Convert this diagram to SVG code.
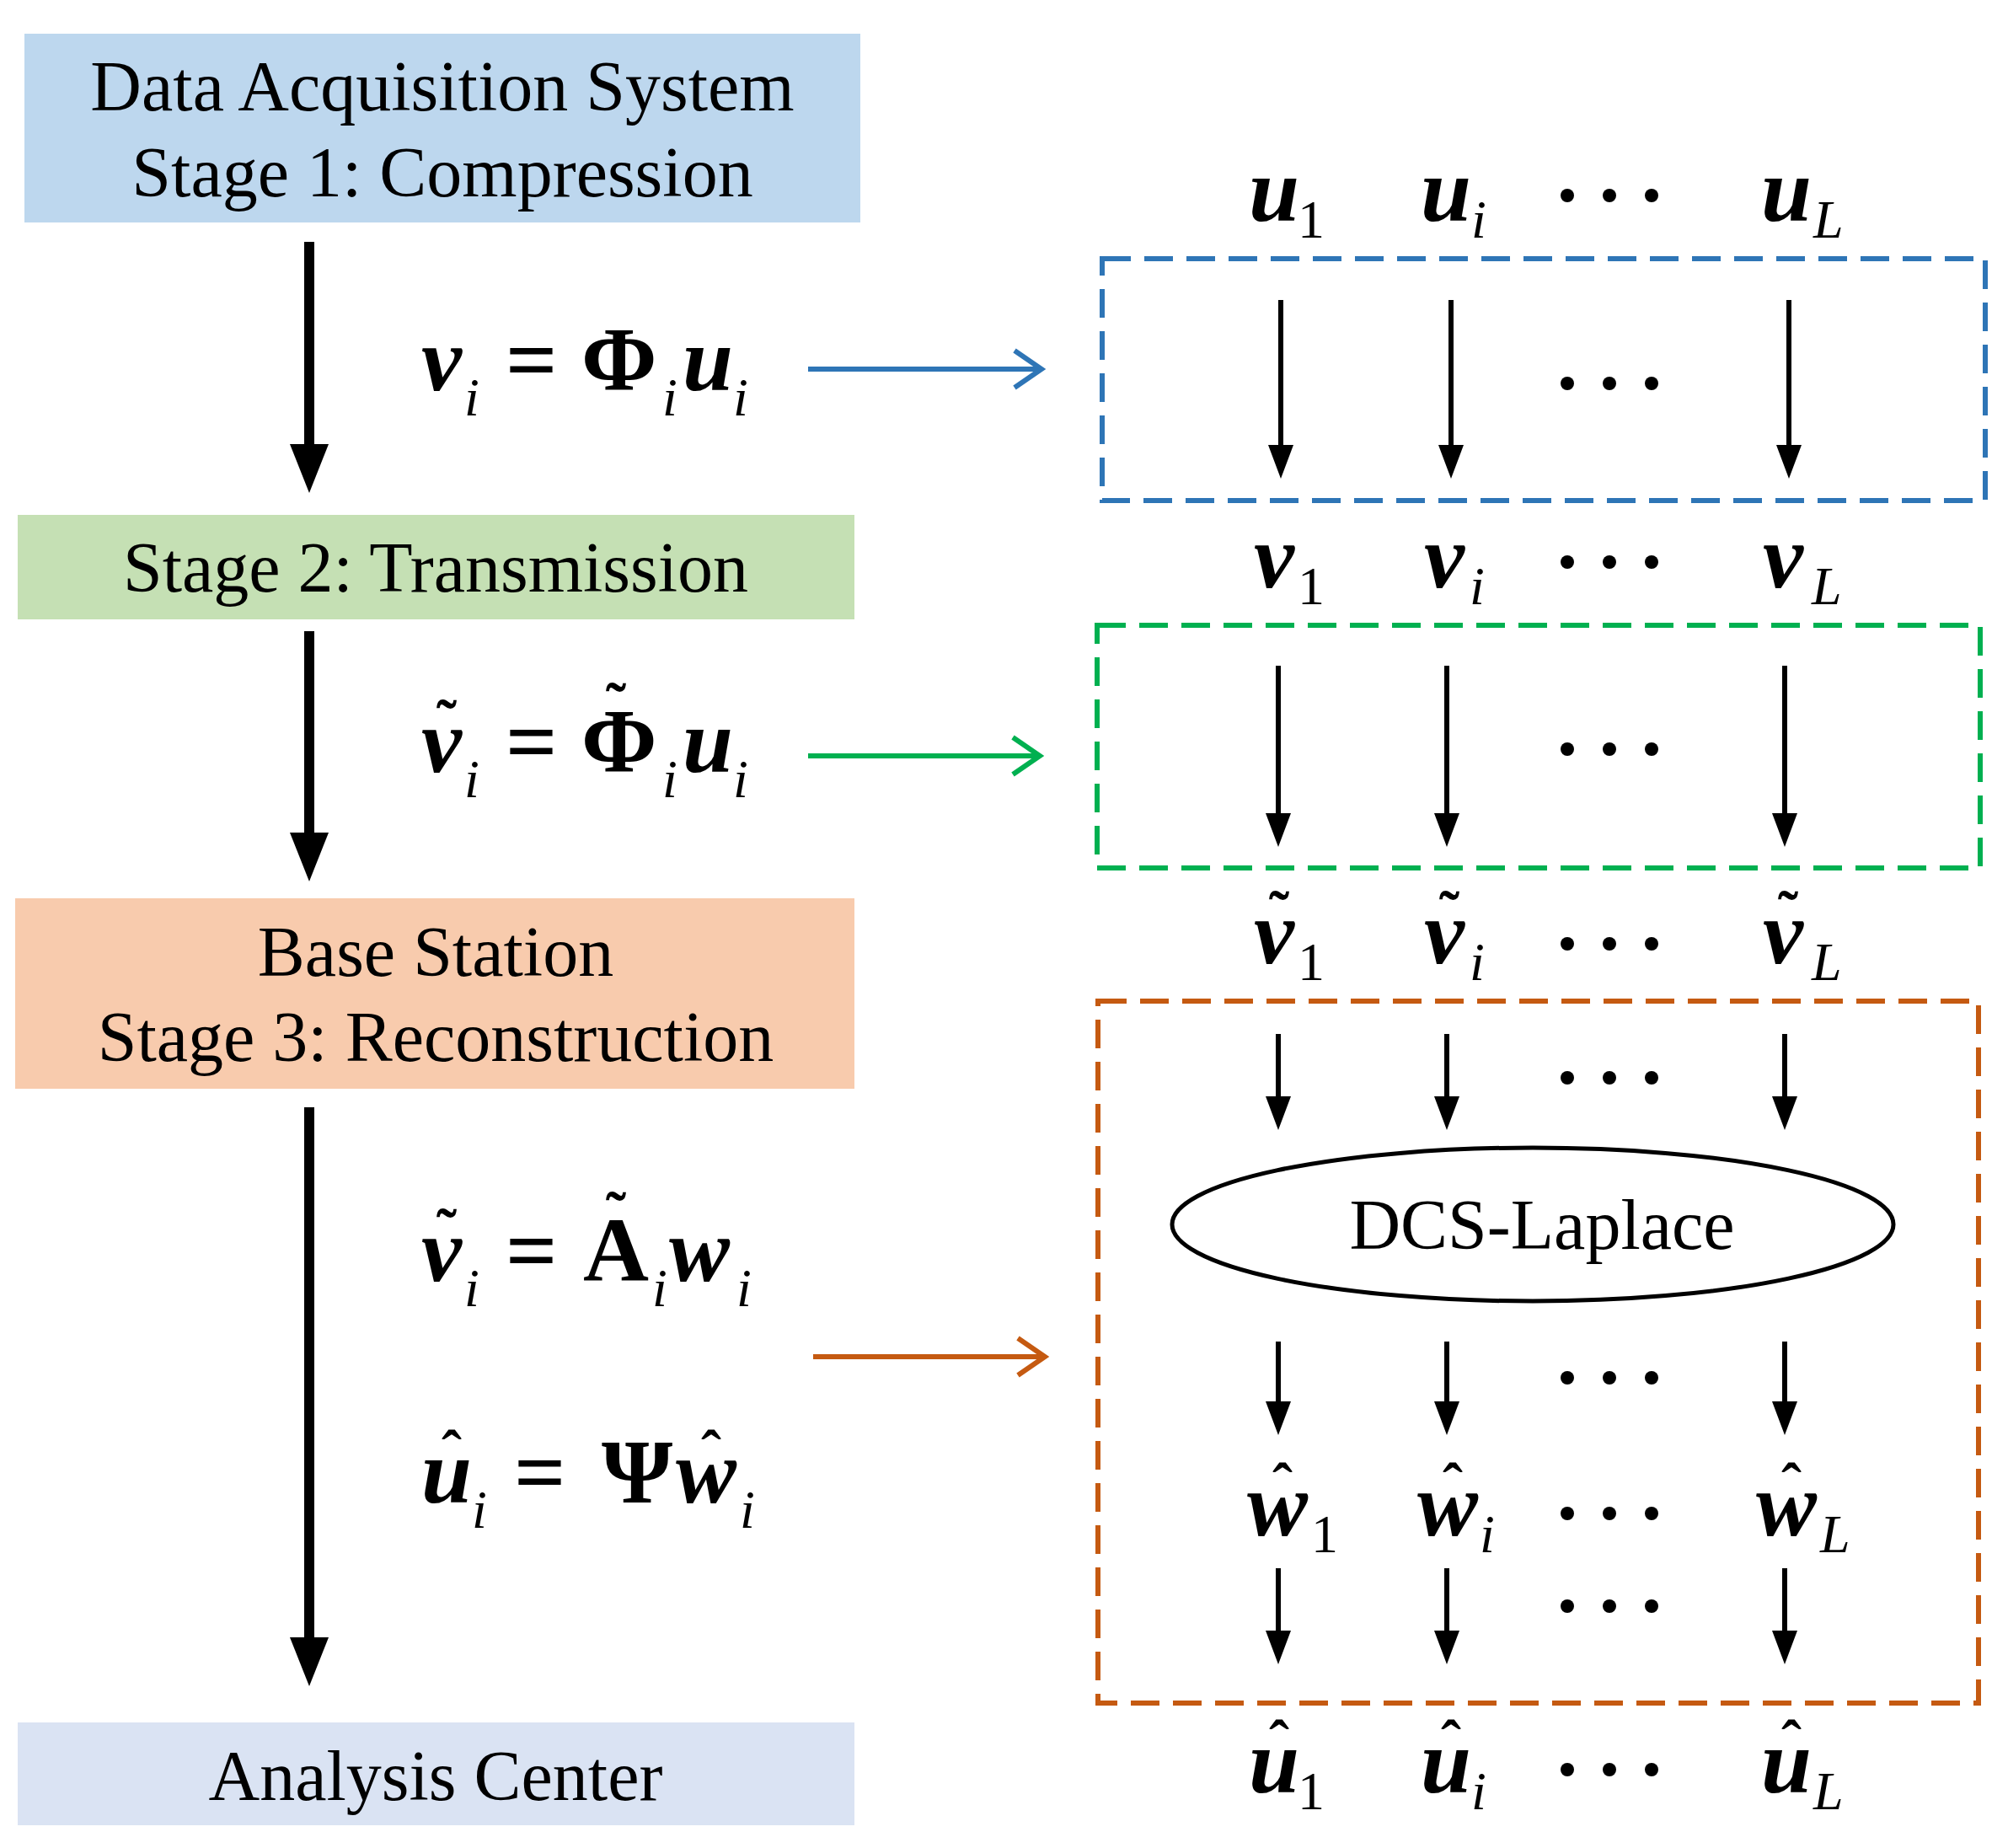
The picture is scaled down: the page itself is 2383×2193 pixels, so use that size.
<svg xmlns="http://www.w3.org/2000/svg" width="2383" height="2193" viewBox="0 0 2383 2193">
<style>
.t{font-family:"Liberation Serif","Times New Roman",serif;font-size:84px;fill:#000;text-anchor:middle}
.m{font-family:"Liberation Serif","Times New Roman",serif;font-size:108px;font-weight:bold;font-style:italic;fill:#000}
.r{font-family:"Liberation Serif","Times New Roman",serif;font-size:108px;font-weight:bold;fill:#000}
.d{font-family:"Liberation Serif","Times New Roman",serif;font-size:72px;font-weight:bold;fill:#000;text-anchor:middle}
.s{font-family:"Liberation Serif","Times New Roman",serif;font-size:64px;font-style:italic;fill:#000}
.n{font-family:"Liberation Serif","Times New Roman",serif;font-size:64px;fill:#000}
.big{stroke:#000;stroke-width:12;fill:none}
.sm{stroke:#000;stroke-width:6;fill:none}
.dash{fill:none;stroke-width:6;stroke-dasharray:34 16}
</style>
<defs>
<marker id="bh" markerUnits="userSpaceOnUse" markerWidth="60" markerHeight="46" refX="0" refY="23" orient="auto"><path d="M0 0 L58 23 L0 46 Z" fill="#000"/></marker>
<marker id="sh" markerUnits="userSpaceOnUse" markerWidth="42" markerHeight="30" refX="0" refY="15" orient="auto"><path d="M0 0 L40 15 L0 30 Z" fill="#000"/></marker>
<g id="dots"><circle cx="-50" cy="0" r="8"/><circle cx="0" cy="0" r="8"/><circle cx="50" cy="0" r="8"/></g>
</defs>
<rect width="2383" height="2193" fill="#fff"/>

<g id="stage1"><rect x="29" y="40" width="992" height="224" fill="#BDD7EE"/>
<text class="t" x="525" y="131">Data Acquisition System</text><text class="t" x="525" y="233">Stage 1: Compression</text></g>
<g id="stage2"><rect x="21" y="611" width="993" height="124" fill="#C5E0B4"/>
<text class="t" x="517" y="702">Stage 2: Transmission</text></g>
<g id="stage3"><rect x="18" y="1066" width="996" height="226" fill="#F8CBAD"/>
<text class="t" x="517" y="1158">Base Station</text><text class="t" x="517" y="1259">Stage 3: Reconstruction</text></g>
<g id="analysis"><rect x="21" y="2044" width="993" height="122" fill="#DAE3F3"/>
<text class="t" x="517" y="2136">Analysis Center</text></g>

<g id="equations">
<text class="m" x="500" y="463">v</text><text class="s" x="551" y="493">i</text>
<text class="r" x="600" y="463">=</text>
<text class="r" x="690" y="463">Φ</text><text class="s" x="786" y="493">i</text>
<text class="m" x="810" y="463">u</text><text class="s" x="870" y="493">i</text>

<text class="m" x="500" y="916">v</text><text class="d" x="530" y="880">˜</text><text class="s" x="551" y="946">i</text>
<text class="r" x="600" y="916">=</text>
<text class="r" x="690" y="916">Φ</text><text class="d" x="731" y="860">˜</text><text class="s" x="786" y="946">i</text>
<text class="m" x="810" y="916">u</text><text class="s" x="870" y="946">i</text>

<text class="m" x="500" y="1520">v</text><text class="d" x="530" y="1484">˜</text><text class="s" x="551" y="1550">i</text>
<text class="r" x="600" y="1520">=</text>
<text class="r" x="692" y="1520">A</text><text class="d" x="731" y="1464">˜</text><text class="s" x="774" y="1550">i</text>
<text class="m" x="794" y="1520">w</text><text class="s" x="874" y="1550">i</text>

<text class="m" x="500" y="1783">u</text><text class="d" x="536" y="1747">ˆ</text><text class="s" x="560" y="1813">i</text>
<text class="r" x="610" y="1783">=</text>
<text class="r" x="714" y="1783">Ψ</text>
<text class="m" x="802" y="1783">w</text><text class="d" x="844" y="1747">ˆ</text><text class="s" x="878" y="1813">i</text>
</g>

<g id="connectors">
<path class="big" d="M367 287 V527" marker-end="url(#bh)"/>
<path class="big" d="M367 749 V988" marker-end="url(#bh)"/>
<path class="big" d="M367 1314 V1943" marker-end="url(#bh)"/>
<g stroke="#2E75B6" stroke-width="6" fill="none"><path d="M959 438 H1234"/><path d="M1204 416 L1236 438 L1204 460"/></g>
<g stroke="#00B050" stroke-width="6" fill="none"><path d="M959 897 H1232"/><path d="M1202 875 L1234 897 L1202 919"/></g>
<g stroke="#C55A11" stroke-width="6" fill="none"><path d="M965 1610 H1238"/><path d="M1208 1588 L1240 1610 L1208 1632"/></g>
<g id="colarrows">
<path class="sm" d="M1520 356 V528" marker-end="url(#sh)"/><path class="sm" d="M1722 356 V528" marker-end="url(#sh)"/><path class="sm" d="M2123 356 V528" marker-end="url(#sh)"/>
<path class="sm" d="M1517 790 V965" marker-end="url(#sh)"/><path class="sm" d="M1717 790 V965" marker-end="url(#sh)"/><path class="sm" d="M2118 790 V965" marker-end="url(#sh)"/>
<path class="sm" d="M1517 1227 V1301" marker-end="url(#sh)"/><path class="sm" d="M1717 1227 V1301" marker-end="url(#sh)"/><path class="sm" d="M2118 1227 V1301" marker-end="url(#sh)"/>
<path class="sm" d="M1517 1592 V1663" marker-end="url(#sh)"/><path class="sm" d="M1717 1592 V1663" marker-end="url(#sh)"/><path class="sm" d="M2118 1592 V1663" marker-end="url(#sh)"/>
<path class="sm" d="M1517 1861 V1935" marker-end="url(#sh)"/><path class="sm" d="M1717 1861 V1935" marker-end="url(#sh)"/><path class="sm" d="M2118 1861 V1935" marker-end="url(#sh)"/>
</g>
</g>

<g id="boxes">
<rect class="dash" x="1308" y="307" width="1048" height="287" stroke="#2E75B6"/>
<rect class="dash" x="1302" y="742" width="1048" height="288" stroke="#00B050"/>
<rect class="dash" x="1303" y="1188" width="1045" height="833" stroke="#C55A11"/>
</g>

<g id="dcs"><ellipse cx="1819" cy="1453" rx="428" ry="91" fill="#fff" stroke="#000" stroke-width="5"/>
<text class="t" x="1830" y="1482">DCS-Laplace</text></g>

<g id="rows">
<text class="m" x="1482" y="262">u</text><text class="n" x="1540" y="282">1</text>
<text class="m" x="1686" y="262">u</text><text class="s" x="1746" y="282">i</text>
<text class="m" x="2090" y="262">u</text><text class="s" x="2152" y="282">L</text>
<use href="#dots" x="1910" y="232"/>
<use href="#dots" x="1910" y="455"/>

<text class="m" x="1488" y="697">v</text><text class="n" x="1540" y="717">1</text>
<text class="m" x="1690" y="697">v</text><text class="s" x="1744" y="717">i</text>
<text class="m" x="2092" y="697">v</text><text class="s" x="2150" y="717">L</text>
<use href="#dots" x="1910" y="667"/>
<use href="#dots" x="1910" y="889"/>

<text class="m" x="1488" y="1143">v</text><text class="d" x="1518" y="1107">˜</text><text class="n" x="1540" y="1163">1</text>
<text class="m" x="1690" y="1143">v</text><text class="d" x="1720" y="1107">˜</text><text class="s" x="1744" y="1163">i</text>
<text class="m" x="2092" y="1143">v</text><text class="d" x="2122" y="1107">˜</text><text class="s" x="2150" y="1163">L</text>
<use href="#dots" x="1910" y="1120"/>
<use href="#dots" x="1910" y="1279"/>
<use href="#dots" x="1910" y="1635"/>

<text class="m" x="1480" y="1822">w</text><text class="d" x="1522" y="1786">ˆ</text><text class="n" x="1556" y="1842">1</text>
<text class="m" x="1682" y="1822">w</text><text class="d" x="1724" y="1786">ˆ</text><text class="s" x="1756" y="1842">i</text>
<text class="m" x="2084" y="1822">w</text><text class="d" x="2126" y="1786">ˆ</text><text class="s" x="2160" y="1842">L</text>
<use href="#dots" x="1910" y="1796"/>
<use href="#dots" x="1910" y="1906"/>

<text class="m" x="1482" y="2127">u</text><text class="d" x="1518" y="2091">ˆ</text><text class="n" x="1540" y="2147">1</text>
<text class="m" x="1686" y="2127">u</text><text class="d" x="1722" y="2091">ˆ</text><text class="s" x="1746" y="2147">i</text>
<text class="m" x="2090" y="2127">u</text><text class="d" x="2126" y="2091">ˆ</text><text class="s" x="2152" y="2147">L</text>
<use href="#dots" x="1910" y="2100"/>
</g>
</svg>
